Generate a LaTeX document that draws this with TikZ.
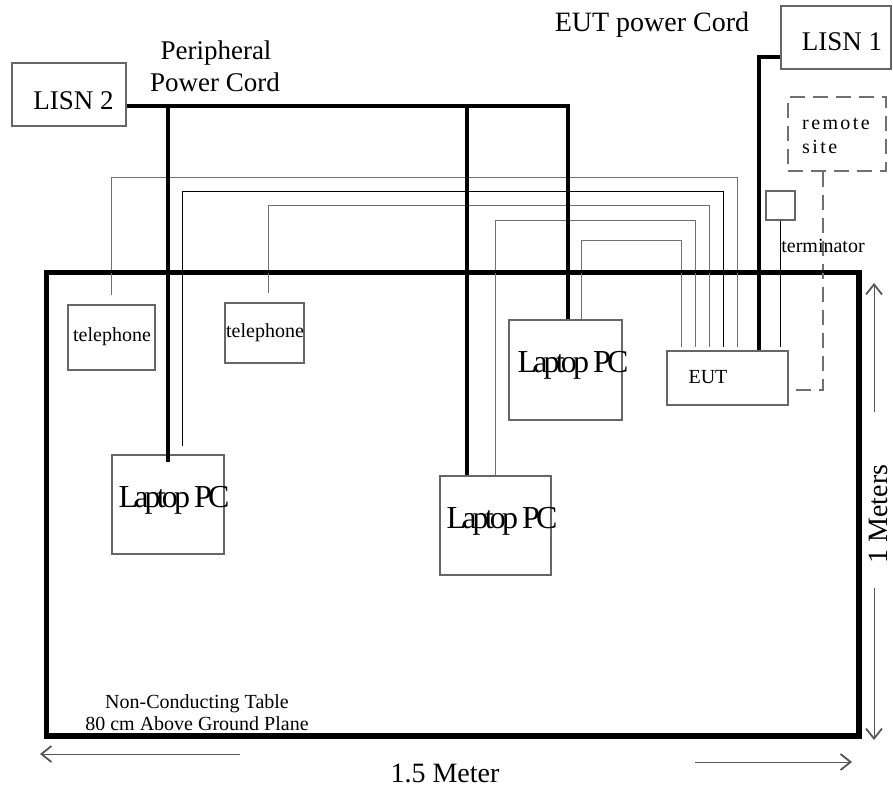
\documentclass[tikz,border=0pt]{standalone}
\usepackage{fontspec}
\setmainfont{Liberation Serif}
\newfontfamily\lapfont[LetterSpace=-12]{Liberation Serif}
\newfontfamily\spacedfont[LetterSpace=12]{Liberation Serif}
\usetikzlibrary{arrows.meta,calc}
\definecolor{boxgray}{HTML}{666666}
\definecolor{wiregray}{HTML}{707070}
\definecolor{dimgray}{HTML}{555555}
\tikzset{
  box/.style={draw=boxgray, line width=1.1pt, inner sep=0pt},
  cord/.style={line width=4pt, black},
  tablebox/.style={draw=black, line width=3.5pt},
  wire/.style={line width=1pt, wiregray},
  bwire/.style={line width=1pt, black},
  dashwire/.style={line width=1.2pt, wiregray, dash pattern=on 15pt off 8pt},
  dimarrow/.style={line width=1pt, dimgray, -{Straight Barb[length=10pt,width=16pt,line width=1.8pt]}, },
  txt/.style={inner sep=0pt, anchor=base, text=black},
  big/.style={font=\fontsize{27}{32}\selectfont},
  mid/.style={font=\fontsize{28}{32}\selectfont},
  small/.style={font=\fontsize{20}{23}\selectfont},
  lap/.style={font=\lapfont\fontsize{32}{36}\selectfont},
}
\begin{document}
\begin{tikzpicture}[x=1pt,y=-1pt]
\useasboundingbox (0,0) rectangle (893,789);

% boxes
\node[tablebox, minimum width=811pt, minimum height=462pt] (table) at (452.5,504) {};
\node[box, minimum width=114pt, minimum height=63pt] (lisn2) at (69,94.5) {};
\node[box, minimum width=110pt, minimum height=63pt] (lisn1) at (836,37.5) {};
\node[box, draw=wiregray, dash pattern=on 15pt off 8pt, minimum width=98pt, minimum height=74pt] (remote) at (837,134) {};
\node[box, minimum width=29pt, minimum height=29pt] (term) at (780.5,205.5) {};
\node[box, minimum width=121pt, minimum height=54pt] (eut) at (727.5,378) {};
\node[box, minimum width=87pt, minimum height=65pt] (tel1) at (111.5,337.5) {};
\node[box, minimum width=79pt, minimum height=60pt] (tel2) at (264.5,333) {};
\node[box, minimum width=112pt, minimum height=99pt] (lap1) at (168,504.5) {};
\node[box, minimum width=111pt, minimum height=99pt] (lap2) at (495.5,525.5) {};
\node[box, minimum width=113pt, minimum height=100pt] (lap3) at (565.5,370) {};

% junction coordinates
\coordinate (j1) at (168,106);
\coordinate (j2) at (467,106);
\coordinate (j3) at (568,106);
\coordinate (e1) at (759,57);
\coordinate (a2) at (737,177);
\coordinate (b2) at (723,191);
\coordinate (c2) at (709,205);
\coordinate (d2) at (695,220);
\coordinate (f2) at (681,240);
\coordinate (r2) at (823,390);

% thin wires to EUT
\draw[wire] ($(tel1.north)+(0,-9)$) |- (a2) -- ($(a2 |- eut.north)+(0,-3)$);
\draw[bwire] ($(lap1.north)+(14,-8)$) |- (b2) -- ($(b2 |- eut.north)+(0,-3)$);
\draw[wire] ($(tel2.north)+(3.5,-9)$) |- (c2) -- ($(c2 |- eut.north)+(0,-3)$);
\draw[wire] ($(lap2.north)+(-0.5,0)$) |- (d2) -- ($(d2 |- eut.north)+(0,-3)$);
\draw[wire] ($(lap3.north)+(15.5,0)$) |- (f2) -- ($(f2 |- eut.north)+(0,-3)$);
\draw[bwire] (term.south) -- ($(term.south |- eut.north)+(0,-3)$);
\draw[dashwire] (remote.south -| r2) -- (r2) -- (r2 -| eut.east);

% power cords
\draw[cord] ([yshift=-11.5pt]lisn2.east) -- (j3) -- (j3 |- lap3.north);
\draw[cord] (j1) -- ($(j1 |- lap1.north)+(0,8)$);
\draw[cord] (j2) -- (j2 |- lap2.north);
\draw[cord] (eut.north -| e1) -- (e1) -- (e1 -| lisn1.west);

% table redrawn on top
\draw[tablebox] (table.north west) rectangle (table.south east);

% dimension arrows
\coordinate (hl1) at (240,754); \coordinate (hl2) at (40,754);
\coordinate (hr1) at (695,762); \coordinate (hr2) at (852,762);
\coordinate (vt1) at (874,412); \coordinate (vt2) at (874,283);
\coordinate (vb1) at (874,588); \coordinate (vb2) at (874,740);
\draw[dimarrow] (hl1) -- (hl2);
\draw[dimarrow] (hr1) -- (hr2);
\draw[dimarrow] (vt1) -- (vt2);
\draw[dimarrow] (vb1) -- (vb2);

% texts
\node[txt, big] (t-lisn2) at (73.5,110) {LISN 2};
\node[txt, big] (t-per1) at (216,60) {Peripheral};
\node[txt, big] (t-per2) at (215,92) {Power Cord};
\node[txt, mid] (t-eutcord) at (652,32) {EUT power Cord};
\node[txt, big] (t-lisn1) at (842,51) {LISN 1};
\node[txt, small, anchor=base west, font=\spacedfont\fontsize{20}{23}\selectfont] (t-rem1) at (802,129) {remote};
\node[txt, small, anchor=base west, font=\spacedfont\fontsize{20}{23}\selectfont] (t-rem2) at (802,153) {site};
\node[txt, small] (t-term) at (823,252) {terminator};
\node[txt, small] (t-eut) at (708,383) {EUT};
\node[txt, small] (t-tel1) at (112,341) {telephone};
\node[txt, small] (t-tel2) at (265,337) {telephone};
\node[txt, lap] (t-lap1) at (174,507) {Laptop PC};
\node[txt, lap] (t-lap2) at (502,528) {Laptop PC};
\node[txt, lap] (t-lap3) at (573,372) {Laptop PC};
\node[txt, small] (t-tab1) at (197,708) {Non-Conducting Table};
\node[txt, small] (t-tab2) at (197,730) {80 cm Above Ground Plane};
\node[txt, mid] (t-w) at (445,782) {1.5 Meter};
\node[txt, mid, rotate=90] (t-h) at (887,514) {1 Meters};
\end{tikzpicture}
\end{document}
